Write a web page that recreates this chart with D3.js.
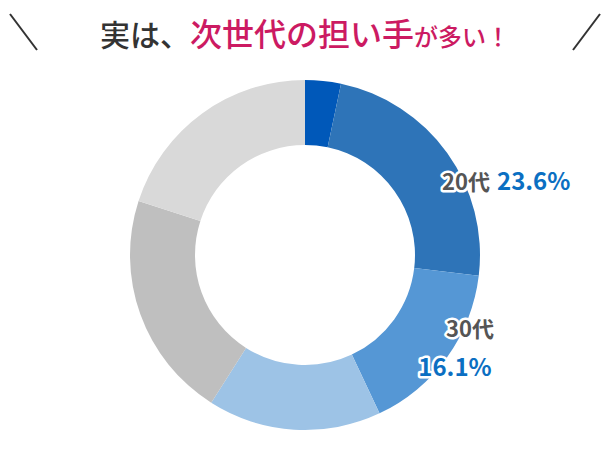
<!DOCTYPE html>
<html><head><meta charset="utf-8">
<script src="https://cdn.jsdelivr.net/npm/d3@7"></script>
<style>body{margin:0;background:#fff}</style></head>
<body><svg id="c" width="610" height="460"></svg>
<script>
const categories = ["10代","20代","30代","40代","50代","60代以上"];
const values = [3.3, 23.6, 16.1, 16.0, 21.0, 20.0];
const colors = ["#0058b9","#2e74b8","#5597d5","#9dc3e6","#bfbfbf","#d9d9d9"];
const labels = [{i:1, name:"20代", pct:"23.6%"},{i:2, name:"30代", pct:"16.1%"}];

const svg = d3.select("#c");
const font = "'Noto Sans CJK JP', sans-serif";
// title
svg.append("line").attr("x1",10).attr("y1",14).attr("x2",37).attr("y2",50).attr("stroke","#333").attr("stroke-width",2);
svg.append("line").attr("x1",600).attr("y1",14).attr("x2",573).attr("y2",50).attr("stroke","#333").attr("stroke-width",2);
const t = svg.append("text").attr("x",305).attr("y",46).attr("text-anchor","middle")
  .attr("font-family",font).attr("font-size",30).attr("font-weight",500);
t.append("tspan").attr("fill","#333").text("実は、");
t.append("tspan").attr("fill","#cc1a62").attr("font-size",32).text("次世代の担い手");
t.append("tspan").attr("fill","#cc1a62").attr("font-size",24).text("が多い！");

const cx=305, cy=255;
const pie = d3.pie().sort(null).value(d=>d)(values);
const arc = d3.arc().innerRadius(110).outerRadius(175);
const g = svg.append("g").attr("transform",`translate(${cx},${cy})`);
g.selectAll("path").data(pie).join("path").attr("d",arc).attr("fill",(d,i)=>colors[i]);

function lab(x,y,txt,fill,size,anchor){
  svg.append("text").attr("x",x).attr("y",y).attr("text-anchor",anchor)
   .attr("font-family",font).attr("font-weight",700).attr("font-size",size)
   .attr("fill",fill).attr("stroke","#fff").attr("stroke-width",5).attr("stroke-linejoin","round")
   .attr("paint-order","stroke").text(txt);
}
lab(490,190,labels[0].name,"#555",22,"end");
lab(497,190,labels[0].pct,"#0b6fc2",24,"start");
lab(470,337,labels[1].name,"#555",22,"middle");
lab(455,376,labels[1].pct,"#0b6fc2",24,"middle");
</script></body></html>
